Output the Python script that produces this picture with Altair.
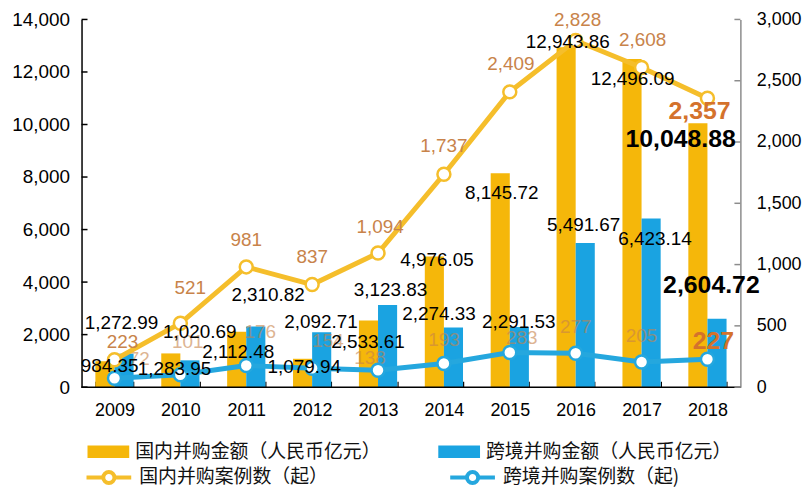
import altair as alt
import pandas as pd

# ---------------- data ----------------
years = ["2009", "2010", "2011", "2012", "2013", "2014", "2015", "2016", "2017", "2018"]
dom_amount = [984.35, 1283.95, 2112.48, 1079.94, 2533.61, 4976.05, 8145.72, 12943.86, 12496.09, 10048.88]
cb_amount = [1272.99, 1020.69, 2310.82, 2092.71, 3123.83, 2274.33, 2291.53, 5491.67, 6423.14, 2604.72]
dom_count = [223, 521, 981, 837, 1094, 1737, 2409, 2828, 2608, 2357]
cb_count = [72, 101, 176, 154, 138, 193, 283, 277, 205, 227]
left_ticks = [0, 2000, 4000, 6000, 8000, 10000, 12000, 14000]
right_ticks = [0, 500, 1000, 1500, 2000, 2500, 3000]
bar_series = ["国内并购金额（人民币亿元）", "跨境并购金额（人民币亿元）"]
line_series = ["国内并购案例数（起）", "跨境并购案例数（起)"]

# label offsets (dx, dy) in pixels
dom_amount_off = [(-5, 5), (-6, 16), (-8, 21), (-8, 8.5), (-10, 22), (-7, 3.5), (-8, 20), (-8, -5), (-9, 20), (-27, 16)]
cb_amount_off = [(7, -31), (19.5, -28), (22, -32), (9, -10), (12.6, -15), (-5, -13), (9, -5), (8, -18), (13.5, 21), (4, -34)]
dom_count_off = [(8, -17.5), (10, -35), (0, -27), (0, -28), (2, -26), (0, -28), (1, -28), (2, -21), (1, -28), (-8, 13)]
cb_count_off = [(25, -19), (7.5, -33), (14, -34), (16, -27), (-8, -12), (0, -24), (12, -15), (0, -26), (0, -26), (6, -18)]

# ---------------- style ----------------
W, H = 663, 370
FONT = "Liberation Sans"
CJK = "Noto Sans CJK SC"
yellow, blue = "#F5B70A", "#1AA3E1"
yellow_line, blue_line = "#F5BE2B", "#25A7DE"
count_color, count_bold = "#C8834A", "#D4722C"
gray = "#8C8C8C"

bars_df = pd.DataFrame({
    "year": years * 2,
    "series": [bar_series[0]] * len(years) + [bar_series[1]] * len(years),
    "value": dom_amount + cb_amount,
})
lines_df = pd.DataFrame({
    "year": years * 2,
    "series": [line_series[0]] * len(years) + [line_series[1]] * len(years),
    "value": dom_count + cb_count,
})

# x axis raised by 6px so that its band ticks point up into the plot; the baseline is drawn as a rule
x_axis = alt.Axis(title=None, labelAngle=0, labelFont=FONT, labelFontSize=18, labelColor="#000",
                  ticks=True, tickBand="extent", tickSize=6, tickColor="#000", tickWidth=1.2,
                  offset=-6, labelPadding=15, domain=False)
x_scale = alt.Scale(paddingInner=0.42, paddingOuter=0.21)


def X(**kw):
    return alt.X("year:N", sort=years, scale=x_scale, axis=x_axis, **kw)


left_scale = alt.Scale(domain=[0, 14000], nice=False, zero=True)
right_scale = alt.Scale(domain=[0, 3000], nice=False, zero=True)
left_axis = alt.Axis(title=None, values=left_ticks, format=",d", labelFont=FONT, labelFontSize=19,
                     labelColor="#000", ticks=False, tickSize=0, labelPadding=12, grid=False,
                     domainColor="#000", domainWidth=1.5, orient="left")
right_axis = alt.Axis(title=None, values=right_ticks, format=",d", labelFont=FONT, labelFontSize=18,
                      labelColor="#000", ticks=False, tickSize=0, labelPadding=16, grid=False,
                      domainColor=gray, domainWidth=1.5, orient="right")

# ---------------- group A: bars (left axis) ----------------
bars = alt.Chart(bars_df).mark_bar().encode(
    x=X(),
    xOffset=alt.XOffset("series:N", sort=bar_series),
    y=alt.Y("value:Q", scale=left_scale, axis=left_axis),
    fill=alt.Fill("series:N", sort=bar_series,
                  scale=alt.Scale(domain=bar_series, range=[yellow, blue]),
                  legend=alt.Legend(title=None, orient="none", legendX=6, legendY=414, direction="horizontal",
                                    symbolType="M-1,-0.3L1,-0.3L1,0.3L-1,0.3Z", symbolSize=1764,
                                    symbolStrokeWidth=0, labelFont=CJK, labelFontSize=19, labelColor="#111",
                                    labelOffset=6, labelLimit=400, columnPadding=57, padding=0)),
)

lt_df = pd.DataFrame({"tick": left_ticks})
left_tick_rules = alt.Chart(lt_df).mark_rule(color="#000", strokeWidth=1.5).encode(
    y=alt.Y("tick:Q", scale=left_scale, axis=left_axis),
    x=alt.value(0), x2=alt.value(6),
)
base_df = pd.DataFrame({"tick": [0]})
baseline = alt.Chart(base_df).mark_rule(color="#000", strokeWidth=1.5).encode(
    y=alt.Y("tick:Q", scale=left_scale, axis=left_axis),
    x=alt.value(0), x2=alt.value(W),
)
group_a = alt.layer(bars, left_tick_rules, baseline)


# ---------------- label helper ----------------
def labels(values, offsets, fmt, color, bigcolor, scale, axis, opacity=1.0):
    out = []
    n = len(years)
    for i in range(n):
        df = pd.DataFrame({"year": [years[i]], "value": [values[i]]})
        big = i == n - 1
        out.append(
            alt.Chart(df).mark_text(
                dx=offsets[i][0], dy=offsets[i][1], font=FONT,
                fontSize=25 if big else 19, fontWeight="bold" if big else "normal",
                color=bigcolor if big else color, opacity=1.0 if big else opacity,
                align="center", baseline="middle",
            ).encode(
                x=X(),
                y=alt.Y("value:Q", scale=scale, axis=axis),
                text=alt.Text("value:Q", format=fmt),
            )
        )
    return out


# ---------------- group B: lines (right axis) ----------------
line_legend = alt.Legend(title=None, orient="none", legendX=3, legendY=436, direction="horizontal",
                         symbolType="M-1,0L-0.25,0M0.25,0L1,0M-0.25,0A0.25,0.25,0,1,1,0.25,0A0.25,0.25,0,1,1,-0.25,0",
                         symbolSize=2025, symbolStrokeWidth=4, symbolFillColor="white",
                         labelFont=CJK, labelFontSize=19,
                         labelColor="#111", labelOffset=6, labelLimit=400, columnPadding=114, padding=0)
stroke_enc = alt.Stroke("series:N", sort=line_series,
                        scale=alt.Scale(domain=line_series, range=[yellow_line, blue_line]),
                        legend=line_legend)

cb_count_labels = labels(cb_count, cb_count_off, ",d", count_color, count_bold, right_scale, right_axis, opacity=0.6)

lines = alt.Chart(lines_df).mark_line(strokeWidth=5).encode(
    x=X(),
    y=alt.Y("value:Q", scale=right_scale, axis=right_axis),
    stroke=stroke_enc,
    detail="series:N",
)
points = alt.Chart(lines_df).mark_point(filled=False, fill="white", fillOpacity=1, size=170,
                                         strokeWidth=2.5, opacity=1).encode(
    x=X(),
    y=alt.Y("value:Q", scale=right_scale, axis=right_axis),
    stroke=stroke_enc,
)
rt_df = pd.DataFrame({"tick": right_ticks})
right_tick_rules = alt.Chart(rt_df).mark_rule(color=gray, strokeWidth=1.5).encode(
    y=alt.Y("tick:Q", scale=right_scale, axis=right_axis),
    x=alt.value(W - 6), x2=alt.value(W),
)
group_b = alt.layer(*cb_count_labels, lines, points, right_tick_rules)

# ---------------- group C: amount labels + domestic count labels ----------------
label_scale = alt.Scale(domain=[0, 14000], nice=False, zero=True)
amount_labels = (labels(dom_amount, dom_amount_off, ",.2f", "#000", "#000", label_scale, None)
                 + labels(cb_amount, cb_amount_off, ",.2f", "#000", "#000", label_scale, None))
group_c = alt.layer(*amount_labels)

count_scale = alt.Scale(domain=[0, 3000], nice=False, zero=True)
group_d = alt.layer(*labels(dom_count, dom_count_off, ",d", count_color, count_bold, count_scale, None))

chart = alt.layer(group_a, group_b, group_c, group_d).resolve_scale(
    y="independent"
).properties(
    width=W, height=H,
    autosize=alt.AutoSizeParams(type="none"),
    padding={"left": 74, "top": 10, "right": 62, "bottom": 104},
    background="white",
).configure_view(stroke=None)

chart.save("out.html", embed_options={"renderer": "svg", "actions": False})
